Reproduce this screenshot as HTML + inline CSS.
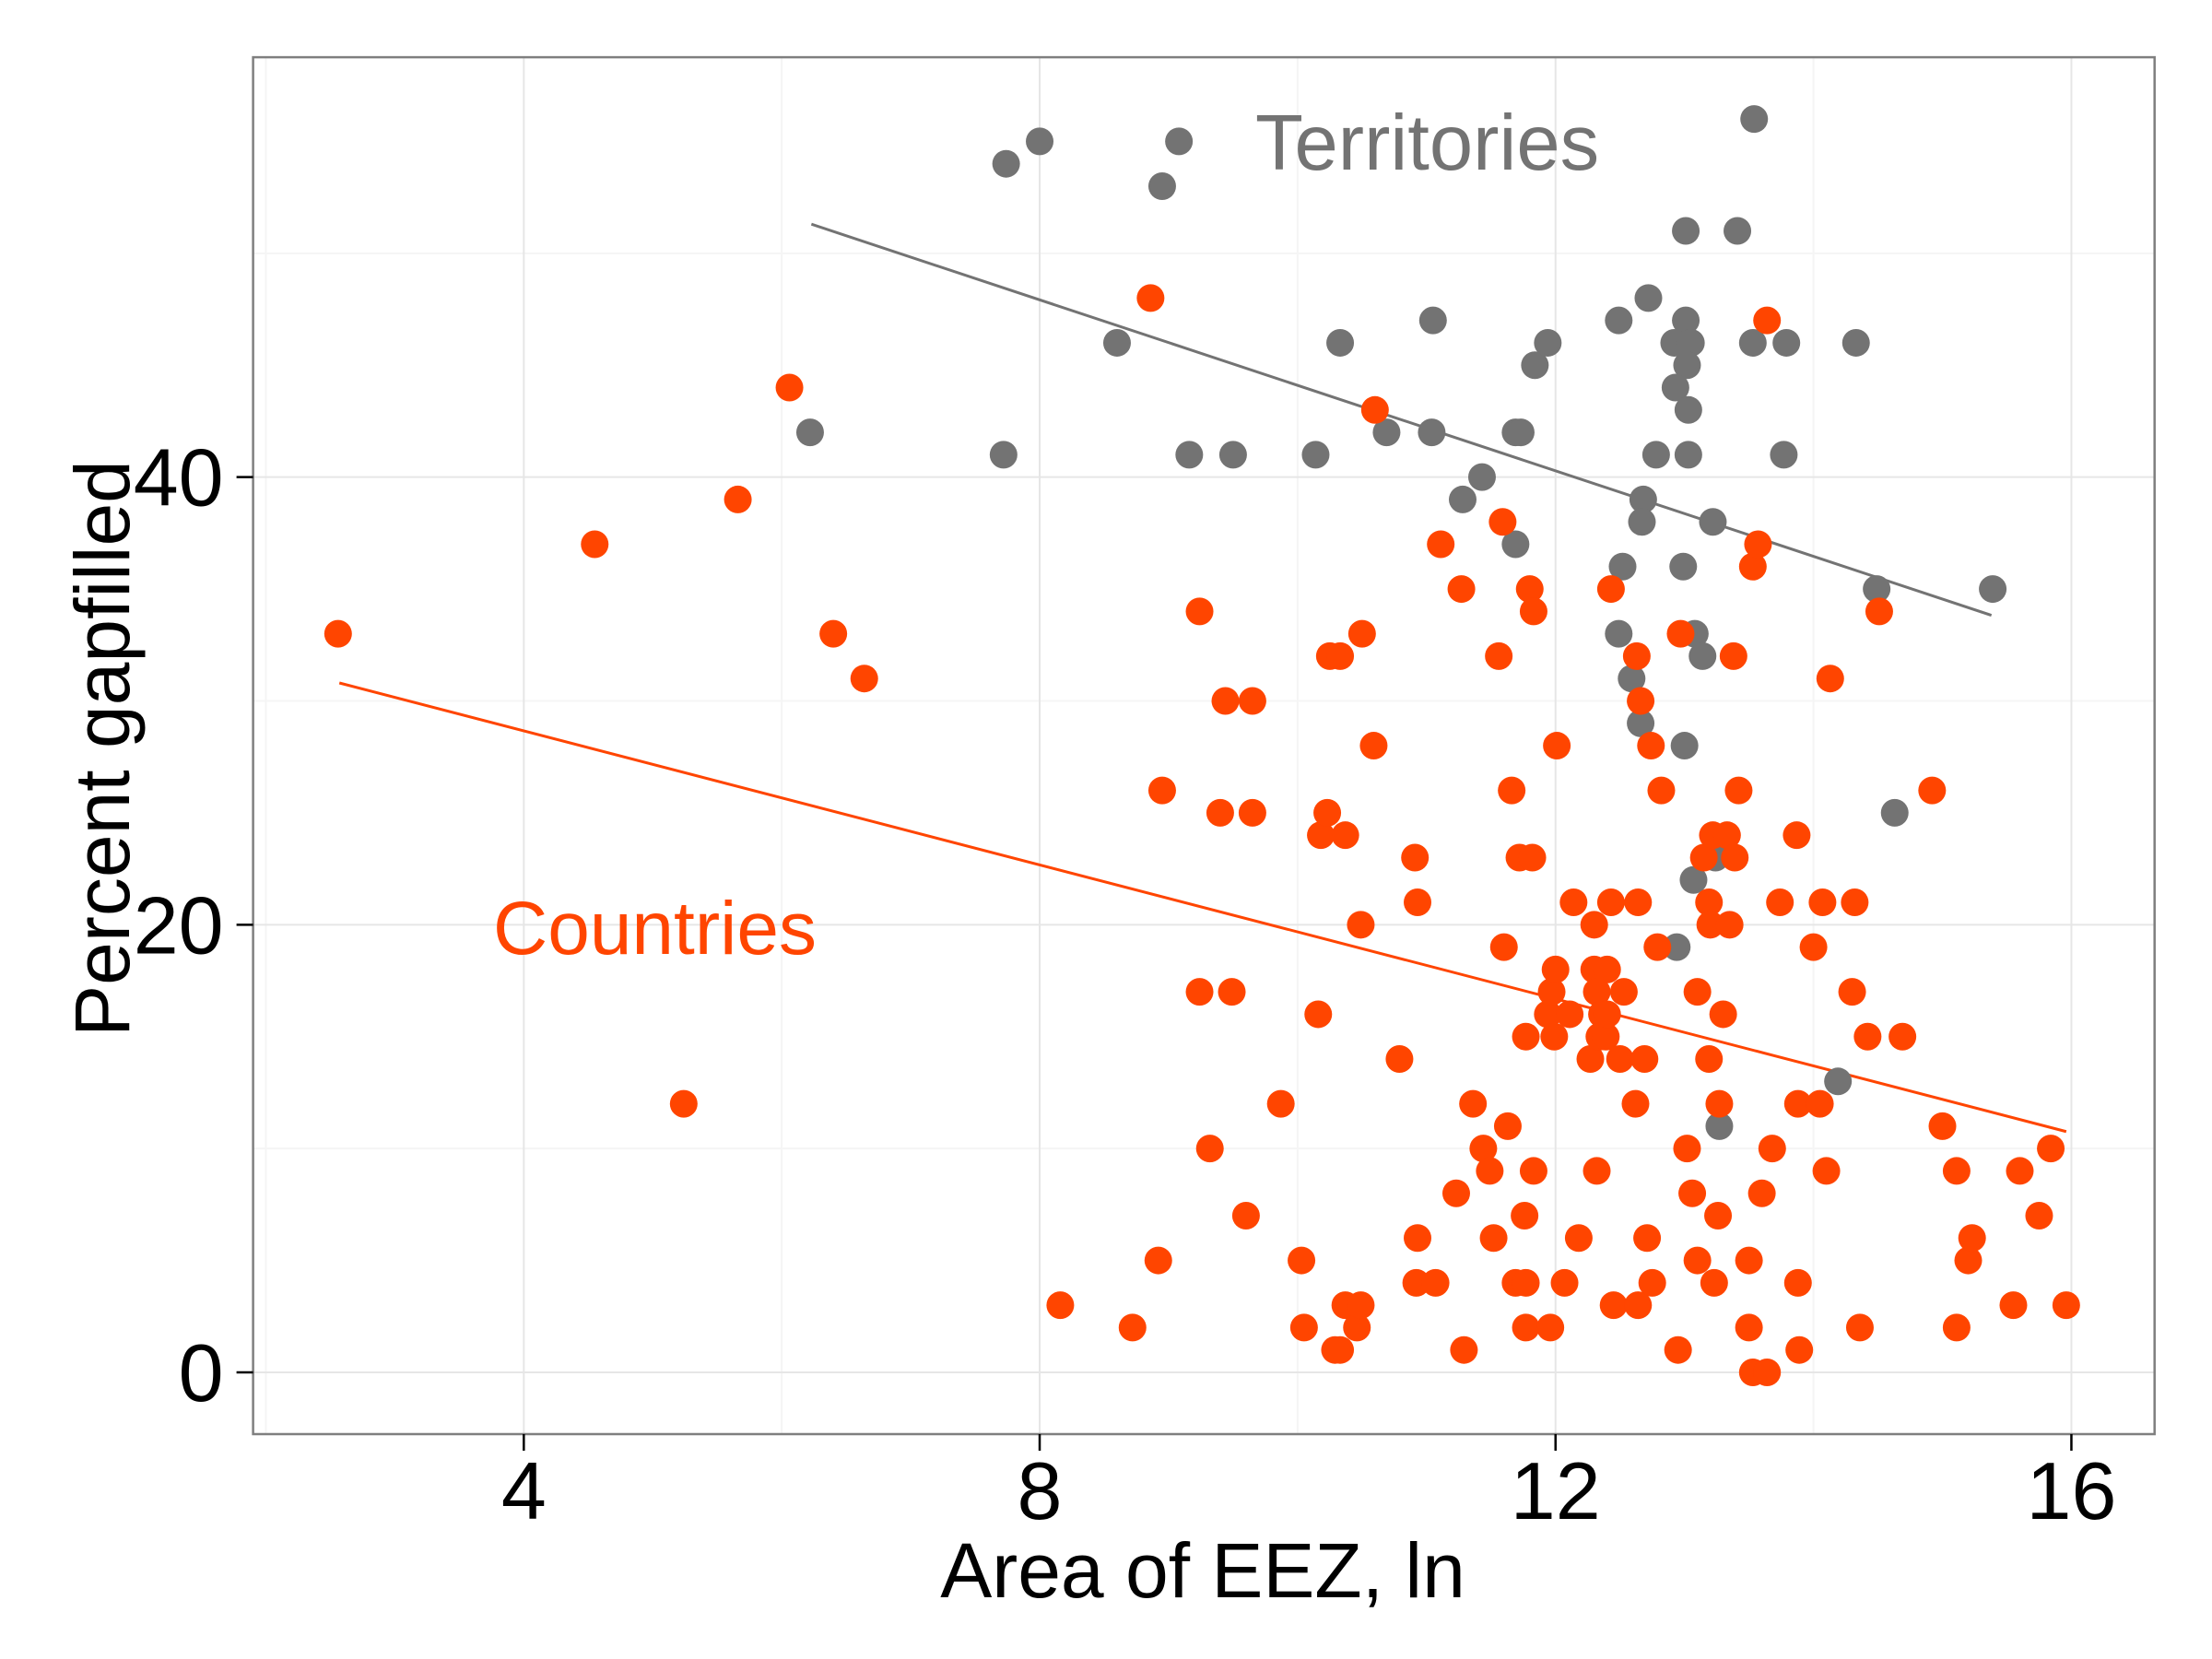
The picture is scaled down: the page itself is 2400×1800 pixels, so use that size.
<!DOCTYPE html>
<html><head><meta charset="utf-8"><style>
html,body{margin:0;padding:0;background:#fff;}
svg{display:block;font-family:"Liberation Sans",sans-serif;}
</style></head><body>
<svg id="chart" width="2400" height="1800" viewBox="0 0 2400 1800"></svg>
<script>
const terrX=[7.74,8.0,9.08,8.95,13.54,8.6,6.22,7.72,9.16,9.5,10.14,10.33,11.05,11.04,10.69,11.28,11.43,11.69,11.73,11.84,11.94,11.69,12.49,12.72,13.01,13.41,13.01,12.92,13.05,13.02,12.93,13.03,13.53,13.79,14.33,13.77,12.78,13.03,12.68,12.67,13.22,12.52,12.99,12.49,13.08,13.14,12.59,12.66,13.0,14.49,15.39,14.63,13.07,13.24,12.94,14.19,13.27];
const terrY=[54,55,55,53,56,46,42,41,41,41,41,46,47,42,42,39,40,42,42,45,46,37,47,48,51,51,47,46,46,45,44,43,46,46,46,41,41,41,39,38,38,36,36,33,33,32,31,29,28,35,35,25,22,23,19,13,11];
const ctryX=[2.56,4.55,5.24,5.66,6.06,6.4,6.64,8.16,8.72,8.86,8.92,8.95,9.24,9.24,9.32,9.4,9.44,9.49,9.6,9.65,9.65,9.87,10.03,10.05,10.16,10.18,10.23,10.25,10.29,10.33,10.37,10.33,10.37,10.46,10.49,10.49,10.5,10.59,10.6,10.79,10.91,10.93,10.93,10.92,11.07,11.11,11.23,11.27,11.29,11.36,11.44,11.49,11.52,11.56,11.59,11.6,11.63,11.66,11.69,11.72,11.76,11.77,11.77,11.8,11.77,11.82,11.83,11.83,11.96,11.94,11.97,12.0,11.99,12.01,12.07,12.11,12.14,12.18,12.27,12.3,12.3,12.32,12.32,12.34,12.36,12.39,12.4,12.4,12.43,12.43,12.45,12.5,12.53,12.63,12.62,12.64,12.64,12.66,12.69,12.71,12.74,12.75,12.79,12.82,12.95,12.97,13.02,13.06,13.1,13.1,13.15,13.19,13.19,13.2,13.22,13.23,13.26,13.27,13.3,13.33,13.35,13.38,13.39,13.42,13.5,13.5,13.53,13.53,13.57,13.6,13.64,13.64,13.68,13.74,13.87,13.88,13.88,13.89,14.0,14.05,14.07,14.1,14.13,14.3,14.32,14.36,14.42,14.51,14.69,14.92,15.0,15.11,15.11,15.2,15.23,15.55,15.6,15.75,15.84,15.96];
const ctryY=[33,37,12,39,44,33,31,3,2,48,5,26,34,17,10,25,30,17,7,30,25,12,5,2,16,24,25,32,1,32,24,1,3,2,3,20,33,28,43,14,23,21,6,4,4,37,8,35,1,12,10,9,6,32,38,19,11,26,4,23,7,2,4,35,15,23,34,9,2,16,17,18,15,28,4,16,21,6,14,20,18,17,9,15,16,15,16,18,35,21,3,14,17,32,12,21,3,30,14,6,28,4,19,26,1,33,10,8,17,5,23,21,14,20,24,4,7,12,16,24,20,32,23,26,2,5,36,0,37,8,0,47,10,21,24,12,4,1,19,12,21,9,31,17,21,2,15,34,15,26,11,9,2,5,6,3,9,7,10,3];
const terrFit=[63.2,-1.91];   // intercept, slope
const terrRange=[6.23,15.38];
const ctryFit=[34.65,-1.497];
const ctryRange=[2.57,15.96];
const xTicks=[4,8,12,16];
const yTicks=[0,20,40];
const xMinor=[2,6,10,14];
const yMinor=[10,30,50];

const PL=274.6,PR=2337.7,PT=62.1,PB=1556;
const XMIN=1.901,XMAX=16.645,YMIN=-2.76,YMAX=58.76;
function xs(v){return PL+(v-XMIN)/(XMAX-XMIN)*(PR-PL);}
function ys(v){return PT+(YMAX-v)/(YMAX-YMIN)*(PB-PT);}
const svg=document.getElementById('chart');
const NS='http://www.w3.org/2000/svg';
function mk(tag,attrs,parent){const e=document.createElementNS(NS,tag);for(const k in attrs)e.setAttribute(k,attrs[k]);(parent||svg).appendChild(e);return e;}

xMinor.forEach(v=>{if(v<XMIN)return;const l=mk('line',{x1:xs(v),x2:xs(v),y1:PT,y2:PB,stroke:'#f5f5f5','stroke-width':2});

});
yMinor.forEach(v=>{const l=mk('line',{x1:PL,x2:PR,y1:ys(v),y2:ys(v),stroke:'#f5f5f5','stroke-width':2});

});
xTicks.forEach(v=>{const l=mk('line',{x1:xs(v),x2:xs(v),y1:PT,y2:PB,stroke:'#e6e6e6','stroke-width':2});

});
yTicks.forEach(v=>{const l=mk('line',{x1:PL,x2:PR,y1:ys(v),y2:ys(v),stroke:'#e6e6e6','stroke-width':2});

});

function fitLine(fit,range,color,name){
 const l=mk('line',{x1:xs(range[0]),y1:ys(fit[0]+fit[1]*range[0]),x2:xs(range[1]),y2:ys(fit[0]+fit[1]*range[1]),stroke:color,'stroke-width':3});
 
 
}
fitLine(terrFit,terrRange,'#737373','territories-trend-line');
fitLine(ctryFit,ctryRange,'#ff4500','countries-trend-line');

terrX.forEach((x,i)=>{const c=mk('circle',{cx:xs(x),cy:ys(terrY[i]),r:15,fill:'#737373'});

});
ctryX.forEach((x,i)=>{const c=mk('circle',{cx:xs(x),cy:ys(ctryY[i]),r:15,fill:'#ff4500'});

});

const b=mk('rect',{x:PL,y:PT,width:PR-PL,height:PB-PT,fill:'none',stroke:'#7f7f7f','stroke-width':2.5});



xTicks.forEach(v=>{
 const t=mk('line',{x1:xs(v),x2:xs(v),y1:PB,y2:PB+18,stroke:'#000','stroke-width':2.5});
 
 
 const tx=mk('text',{x:xs(v),y:1648,'text-anchor':'middle','font-size':88,fill:'#000'});
 tx.textContent=v;
 
 
});
yTicks.forEach(v=>{
 const t=mk('line',{x1:PL-18,x2:PL,y1:ys(v),y2:ys(v),stroke:'#000','stroke-width':2.5});
 
 
 const tx=mk('text',{x:PL-32,y:ys(v)+31,'text-anchor':'end','font-size':88,fill:'#000'});
 tx.textContent=v;
 
 
});
</script>
<svg style="position:absolute;left:0;top:0" width="2400" height="1800">
<text x="1305" y="1733" text-anchor="middle" font-size="84" fill="#000" font-family="Liberation Sans, sans-serif">Area of EEZ, ln</text>
<text x="0" y="0" transform="translate(140,812) rotate(-90)" text-anchor="middle" font-size="84" fill="#000" font-family="Liberation Sans, sans-serif">Percent gapfilled</text>
<text x="1362" y="184" font-size="85" fill="#737373" font-family="Liberation Sans, sans-serif">Territories</text>
<text x="535" y="1035" font-size="82" fill="#ff4500" font-family="Liberation Sans, sans-serif">Countries</text>
</svg>
</body></html>
